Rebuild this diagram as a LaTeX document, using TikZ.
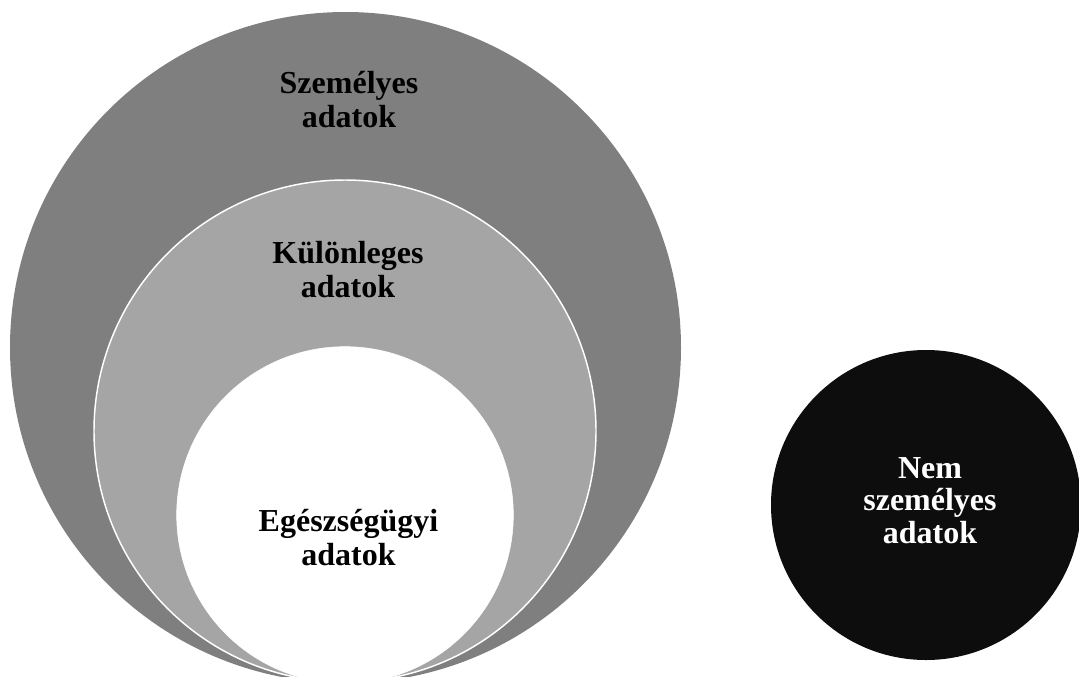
\documentclass[tikz,border=0pt]{standalone}
\usepackage{fontspec}
\setmainfont{Liberation Serif}
\definecolor{ringouter}{HTML}{7F7F7F}
\definecolor{ringmid}{HTML}{A5A5A5}
\definecolor{darkdisc}{HTML}{0D0D0D}
\begin{document}
\begin{tikzpicture}[x=0.75pt,y=-0.75pt,
  ring/.style={circle, inner sep=0pt, outer sep=0pt},
  lbl/.style={anchor=base, inner sep=0pt, font=\bfseries\fontsize{24}{25.5}\selectfont},
  lblw/.style={anchor=base, inner sep=0pt, text=white, font=\bfseries\fontsize{24}{24.5}\selectfont}]
\useasboundingbox (0,0) rectangle (1079,676);
\clip (0,0) rectangle (1079,676);
% nested circles
\node[ring, fill=ringouter, minimum size=503.25pt] (outer) at (345.5,347.5) {};
\node[ring, fill=ringmid, draw=white, line width=1.1pt, minimum size=376.5pt] (mid) at (345,431) {};
\node[ring, fill=white, draw=white, minimum size=252.5pt] (inner) at (345,515) {};
% separate dark circle
\node[ring, fill=darkdisc, minimum size=232.5pt] (other) at (926,505) {};
% labels
\node[lbl] (tszem) at (349,93) {\begin{tabular}[t]{@{}c@{}}Személyes\\adatok\end{tabular}};
\node[lbl] (tkul) at (348,263.5) {\begin{tabular}[t]{@{}c@{}}Különleges\\adatok\end{tabular}};
\node[lbl] (tege) at (348.5,531.5) {\begin{tabular}[t]{@{}c@{}}Egészségügyi\\adatok\end{tabular}};
\node[lblw] (tnem) at (930,478) {\begin{tabular}[t]{@{}c@{}}Nem\\személyes\\adatok\end{tabular}};
\end{tikzpicture}
\end{document}
